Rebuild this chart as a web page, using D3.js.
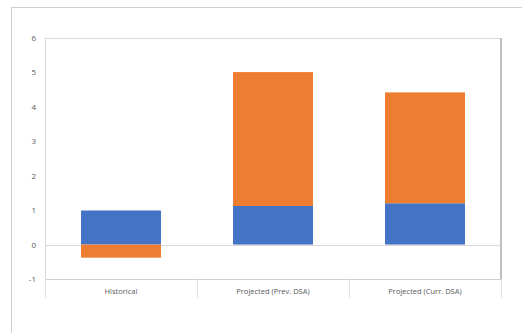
<!DOCTYPE html>
<html>
<head>
<meta charset="utf-8">
<script src="https://cdn.jsdelivr.net/npm/d3@7"></script>
<style>
  body { margin: 0; background: #fff; }
  svg { display: block; }
  text { font-family: "Open Sans", "Liberation Sans", sans-serif; fill: #595959; }
</style>
</head>
<body>
<svg id="chart" width="522" height="333"></svg>
<script>
const categories = ['Historical', 'Projected (Prev. DSA)', 'Projected (Curr. DSA)'];
const seriesNames = ['base', 'change'];
const baseValues = [0.99, 1.12, 1.2];
const changeValues = [-0.38, 3.89, 3.22];
const yTicks = [-1, 0, 1, 2, 3, 4, 5, 6];
const colors = ['#4472c4', '#ed7d31'];

const svg = d3.select('#chart');
const plot = { left: 45, right: 501, top: 38, bottom: 279 };

const rows = categories.map((name, i) => ({ name, base: baseValues[i], change: changeValues[i] }));
const stacked = d3.stack().keys(seriesNames).offset(d3.stackOffsetDiverging)(rows);

const x = d3.scaleBand().domain(categories).range([plot.left, plot.right]).paddingInner(0.474).paddingOuter(0.237);
const y = d3.scaleLinear().domain([-1, 6]).range([plot.bottom, plot.top]);

// outer frame
svg.append('path').attr('d', `M11.5,333 V7.5 H522`).attr('fill', 'none').attr('stroke', '#d0d0d0');

// plot frame
svg.append('path').attr('d', `M${plot.left + 0.5},${plot.bottom} V${plot.top + 0.5} H${plot.right}`)
  .attr('fill', 'none').attr('stroke', '#d9d9d9');
svg.append('line').attr('x1', plot.right).attr('x2', plot.right).attr('y1', plot.top).attr('y2', plot.bottom + 1)
  .attr('stroke', '#bfbfbf').attr('stroke-width', 2);

// zero line
svg.append('line').attr('x1', plot.left).attr('x2', plot.right)
  .attr('y1', Math.round(y(0)) + 0.5).attr('y2', Math.round(y(0)) + 0.5).attr('stroke', '#d9d9d9');

// bars
svg.append('g').selectAll('g').data(stacked).join('g').attr('fill', (d, i) => colors[i])
  .selectAll('rect').data((d) => d).join('rect')
  .attr('x', (d) => x(d.data.name))
  .attr('width', x.bandwidth())
  .attr('y', (d) => y(Math.max(d[0], d[1])))
  .attr('height', (d) => Math.abs(y(d[0]) - y(d[1])));

// y axis
const yAxis = svg.append('g').attr('transform', `translate(${plot.left},0)`)
  .call(d3.axisLeft(y).tickValues(yTicks).tickFormat((d) => String(d)).tickSize(0).tickPadding(9));
yAxis.select('.domain').remove();
yAxis.selectAll('text').attr('font-size', 8).style('font-family', '"Open Sans", "Liberation Sans", sans-serif').attr('fill', '#595959');

// category axis
svg.append('line').attr('x1', plot.left).attr('x2', plot.right)
  .attr('y1', plot.bottom + 0.5).attr('y2', plot.bottom + 0.5).attr('stroke', '#d0d0d0');
const step = x.step();
const edges = [plot.left].concat(categories.map((c) => x(c) - x.paddingOuter() * step + step));
svg.append('g').selectAll('line').data(edges).join('line')
  .attr('x1', (d) => Math.round(d) + 0.5).attr('x2', (d) => Math.round(d) + 0.5)
  .attr('y1', plot.bottom).attr('y2', 298).attr('stroke', '#e3e3e3');
svg.append('g').selectAll('text').data(categories).join('text')
  .attr('x', (d) => x(d) + x.bandwidth() / 2).attr('y', 294)
  .attr('text-anchor', 'middle').attr('font-size', 7.5).text((d) => d);
</script>
</body>
</html>
